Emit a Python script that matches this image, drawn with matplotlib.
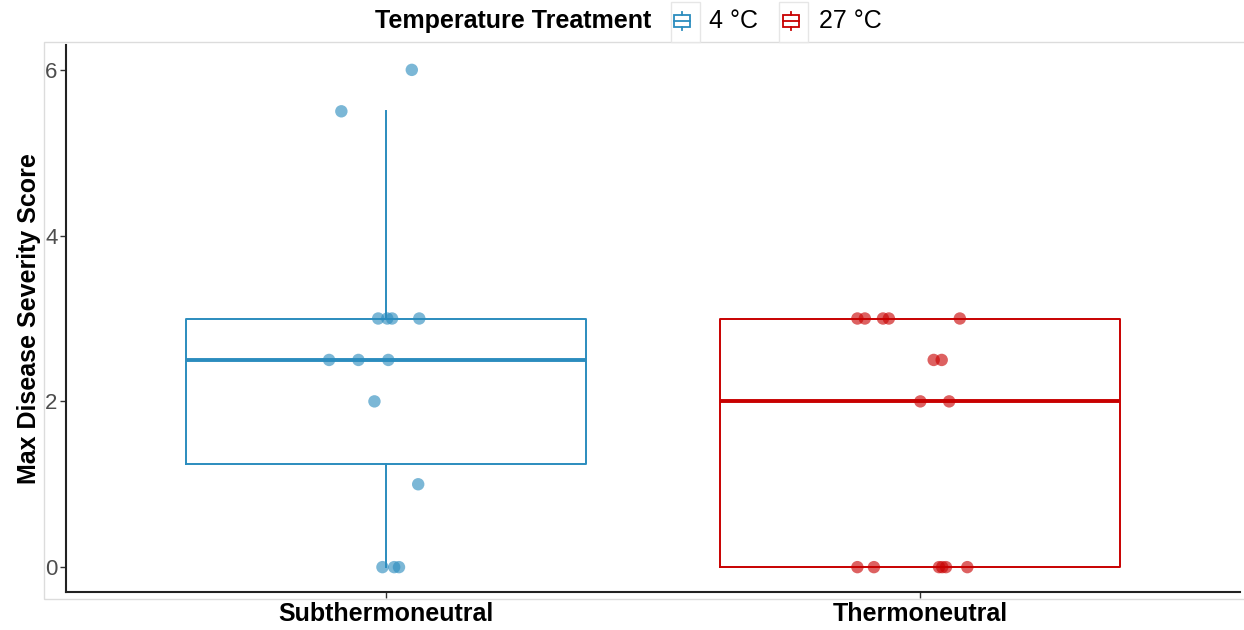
import numpy as np
import matplotlib.pyplot as plt
from matplotlib.patches import Rectangle
from matplotlib.lines import Line2D

plt.rcParams['font.family'] = ['Liberation Sans', 'DejaVu Sans']

# data
groups = ['Subthermoneutral', 'Thermoneutral']
legend_labels = ['4 °C', '27 °C']
colors = ['#2b8cbe', '#c80000']

sub_scores = [6, 5.5, 3, 3, 3, 3, 2.5, 2.5, 2.5, 2, 1, 0, 0, 0]
sub_jitter = [0.048, -0.084, -0.015, 0.002, 0.011, 0.062, -0.107, -0.052, 0.004,
              -0.022, 0.060, -0.007, 0.015, 0.024]
thermo_scores = [3, 3, 3, 3, 3, 2.5, 2.5, 2, 2, 0, 0, 0, 0, 0, 0]
thermo_jitter = [-0.117, -0.103, -0.069, -0.058, 0.075, 0.026, 0.041, 0.001, 0.055,
                 -0.117, -0.086, 0.036, 0.042, 0.049, 0.089]

scores = [sub_scores, thermo_scores]
jitters = [sub_jitter, thermo_jitter]

W, H = 1244, 630
fig = plt.figure(figsize=(W / 100, H / 100), dpi=100)

def fx(px):
    return px / W

def fy(py):
    return 1 - py / H

# light panel border
fig.patches.append(Rectangle((fx(44), fy(599)), fx(1250) - fx(44), fy(42) - fy(599),
                             transform=fig.transFigure, fill=False,
                             edgecolor='#dcdcdc', lw=1))

ax = fig.add_axes([fx(66), fy(592), fx(1240) - fx(66), fy(45) - fy(592)])

for i, (vals, jit, c) in enumerate(zip(scores, jitters, colors)):
    pos = i + 1
    ax.boxplot([vals], positions=[pos], widths=0.75, whis=1.5, showfliers=False,
               showcaps=False, patch_artist=False,
               boxprops=dict(color=c, lw=1.4),
               whiskerprops=dict(color=c, lw=1.4),
               medianprops=dict(color=c, lw=2.8))
    ax.scatter(pos + np.array(jit), vals, s=80, color=c, alpha=0.62,
               edgecolors='none', zorder=3)

ax.set_xlim(0.4, 2.6)
ax.set_ylim(-0.3, 6.3)
ax.set_xticks([1, 2])
ax.set_xticklabels(groups, fontsize=18, fontweight='bold', color='black')
ax.set_yticks([0, 2, 4, 6])
ax.tick_params(axis='y', labelsize=16, labelcolor='#4d4d4d', color='#333333',
               length=4, width=1, pad=2)
ax.tick_params(axis='x', color='#333333', length=4, width=1, pad=3)
ax.set_ylabel('Max Disease Severity Score', fontsize=18, fontweight='bold', labelpad=3)
for s in ['top', 'right']:
    ax.spines[s].set_visible(False)
for s in ['left', 'bottom']:
    ax.spines[s].set_linewidth(1.5)
    ax.spines[s].set_color('#222222')

# legend on top
fig.text(fx(375), fy(21), 'Temperature Treatment', fontsize=18, fontweight='bold',
         va='center', ha='left')
key_x = [671, 779]
glyph_x = [682, 791]
label_x = [709, 819]
for kx, cx, lx, lab, c in zip(key_x, glyph_x, label_x, legend_labels, colors):
    fig.patches.append(Rectangle((fx(kx), fy(42)), fx(29), fy(2) - fy(42),
                                 transform=fig.transFigure, facecolor='white',
                                 edgecolor='#e6e6e6', lw=1))
    fig.patches.append(Rectangle((fx(cx - 8), fy(27)), fx(16), fy(15) - fy(27),
                                 transform=fig.transFigure, fill=False,
                                 edgecolor=c, lw=1.3))
    fig.add_artist(Line2D([fx(cx - 8), fx(cx + 8)], [fy(21), fy(21)], color=c, lw=1.3))
    fig.add_artist(Line2D([fx(cx), fx(cx)], [fy(12), fy(15)], color=c, lw=1.3))
    fig.add_artist(Line2D([fx(cx), fx(cx)], [fy(27), fy(30)], color=c, lw=1.3))
    fig.text(fx(lx), fy(21), lab, fontsize=18, va='center', ha='left')

fig.savefig('out.png', dpi=100)
